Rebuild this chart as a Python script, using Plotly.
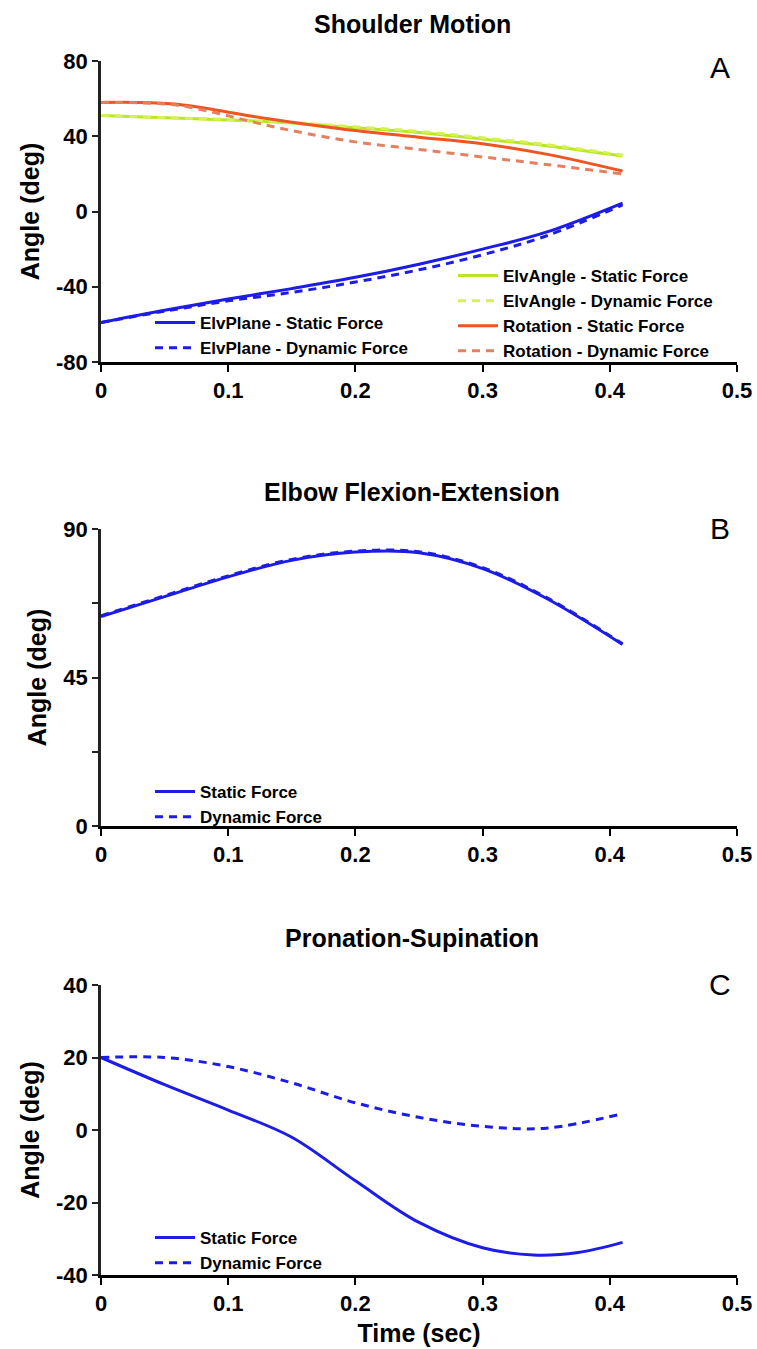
import plotly.graph_objects as go

W, H = 757, 1349

# ---------------- data ----------------
t_a = [0, 0.05, 0.1, 0.15, 0.2, 0.25, 0.3, 0.35, 0.41]
elvplane_static = [-59, -52.5, -46.5, -41, -35, -28, -20, -11, 4.5]
elvplane_dynamic = [-59, -53, -47.5, -43, -37.5, -31, -23, -13, 3.5]
elvangle_static = [51, 49.8, 48.7, 47, 44.5, 42, 38.5, 35, 29.5]
elvangle_dynamic = [51, 49.9, 48.9, 47.3, 45, 42.6, 39.2, 35.6, 30]
t_rot = [0, 0.03, 0.06, 0.09, 0.12, 0.15, 0.2, 0.25, 0.3, 0.35, 0.41]
rotation_static = [58, 58, 57, 54, 50.5, 47.5, 43, 39.5, 36, 30.5, 21.5]
rotation_dynamic = [58, 57.8, 56.5, 52.5, 47.5, 43, 37, 33, 29, 25, 20]

t_b = [0, 0.05, 0.1, 0.15, 0.2, 0.25, 0.3, 0.35, 0.41]
elbow_static = [63.5, 69.5, 75.5, 80.5, 83, 82.8, 78, 69, 55]
elbow_dynamic = [63.7, 69.8, 75.8, 80.8, 83.3, 83.1, 78.3, 69.3, 55.2]

t_c_static = [0, 0.05, 0.1, 0.15, 0.2, 0.25, 0.3, 0.34, 0.375, 0.41]
prosup_static = [20, 12.5, 5.5, -2, -14, -25.5, -32.5, -34.5, -33.8, -31]
t_c_dynamic = [0, 0.05, 0.1, 0.15, 0.2, 0.25, 0.3, 0.35, 0.41]
prosup_dynamic = [20, 20, 17.5, 13, 7.5, 3.5, 1, 0.5, 4.5]

x_ticks = [0, 0.1, 0.2, 0.3, 0.4, 0.5]
x_ticklabels = ["0", "0.1", "0.2", "0.3", "0.4", "0.5"]
a_ticks = [-80, -40, 0, 40, 80]
b_ticks = [0, 22.5, 45, 67.5, 90]
b_ticklabels = ["0", "", "45", "", "90"]
c_ticks = [-40, -20, 0, 20, 40]

titles = ["Shoulder Motion", "Elbow Flexion-Extension", "Pronation-Supination"]
letters = ["A", "B", "C"]

# ---------------- style ----------------
BLUE = "rgb(28,28,230)"
GREEN = "rgb(185,232,35)"
GREEN_D = "rgb(215,240,90)"
ORANGE = "rgb(238,85,35)"
ORANGE_D = "rgb(226,128,95)"
FONT = "Liberation Sans, Arial, sans-serif"
DASH = "8px,6px"

L, R = 101, 20
PW = W - L - R
panels_px = [(61, 362), (529, 826), (985, 1275)]


def ydom(top, bot):
    return [1 - bot / H, 1 - top / H]


def px_x(px):
    return (px - L) / PW


def px_y(py):
    return 1 - py / H


fig = go.Figure()


def add(x, y, name, color, dash, axis, legend, width=3):
    fig.add_trace(go.Scatter(
        x=x, y=y, name=name, mode="lines",
        line=dict(color=color, width=width, dash=dash, shape="spline", smoothing=1.0),
        xaxis="x" + axis, yaxis="y" + axis, legend=legend,
    ))


add(t_a, elvplane_static, "ElvPlane - Static Force", BLUE, "solid", "", "legend")
add(t_a, elvplane_dynamic, "ElvPlane - Dynamic Force", BLUE, DASH, "", "legend")
add(t_a, elvangle_static, "ElvAngle - Static Force", GREEN, "solid", "", "legend2")
add(t_a, elvangle_dynamic, "ElvAngle - Dynamic Force", GREEN_D, DASH, "", "legend2")
add(t_rot, rotation_static, "Rotation - Static Force", ORANGE, "solid", "", "legend2")
add(t_rot, rotation_dynamic, "Rotation - Dynamic Force", ORANGE_D, DASH, "", "legend2")

add(t_b, elbow_static, "Static Force", BLUE, "solid", "2", "legend3")
add(t_b, elbow_dynamic, "Dynamic Force", BLUE, DASH, "2", "legend3")

add(t_c_static, prosup_static, "Static Force", BLUE, "solid", "3", "legend4")
add(t_c_dynamic, prosup_dynamic, "Dynamic Force", BLUE, DASH, "3", "legend4")

tickfont = dict(family=FONT, size=22, color="black", weight="bold")
titlefont = dict(family=FONT, size=25, color="black", weight="bold")


def xaxis(anchor, title=None):
    d = dict(
        domain=[0, 1], anchor=anchor, range=[0, 0.5],
        tickvals=x_ticks, ticktext=x_ticklabels,
        showline=True, linecolor="black", linewidth=3,
        ticks="outside", ticklen=7, tickwidth=2, tickcolor="black",
        showgrid=False, zeroline=False, tickfont=tickfont, tickangle=0,
        fixedrange=True, automargin=False,
    )
    if title:
        d["title"] = dict(text=title, font=titlefont, standoff=10)
    return d


def yaxis(anchor, dom, rng, tv, tt=None):
    return dict(
        domain=dom, anchor=anchor, range=rng,
        tickvals=tv, ticktext=tt if tt else [str(v) for v in tv],
        showline=True, linecolor="#222", linewidth=2.5,
        ticks="outside", ticklen=6, tickwidth=2, tickcolor="#222",
        showgrid=False, zeroline=False, tickfont=tickfont,
        title=dict(text="Angle (deg)", font=titlefont, standoff=10),
        fixedrange=True, automargin=False,
    )


fig.update_layout(
    width=W, height=H,
    margin=dict(l=L, r=R, t=0, b=0, autoexpand=False),
    paper_bgcolor="white", plot_bgcolor="white",
    font=dict(family=FONT, color="black"),
    xaxis=xaxis("y"),
    xaxis2=xaxis("y2"),
    xaxis3=xaxis("y3", "Time (sec)"),
    yaxis=yaxis("x", ydom(*panels_px[0]), [-80, 80], a_ticks),
    yaxis2=yaxis("x2", ydom(*panels_px[1]), [0, 90], b_ticks, b_ticklabels),
    yaxis3=yaxis("x3", ydom(*panels_px[2]), [-40, 40], c_ticks),
)

legfont = dict(family=FONT, size=17, color="black", weight="bold")


def leg(xpx, ypx):
    return dict(
        x=px_x(xpx), y=px_y(ypx), xref="paper", yref="paper",
        xanchor="left", yanchor="top", bgcolor="rgba(0,0,0,0)",
        font=legfont, tracegroupgap=0, itemwidth=40,
    )


fig.update_layout(
    legend=leg(150, 305),
    legend2=leg(453, 258),
    legend3=leg(150, 774),
    legend4=leg(150, 1220),
    showlegend=True,
)

title_y = [24, 492, 938]
letter_y = [67, 528, 985]
for i in range(3):
    fig.add_annotation(
        text=titles[i], x=px_x(412), y=px_y(title_y[i]),
        xref="paper", yref="paper", xanchor="center", yanchor="middle",
        showarrow=False, font=dict(family=FONT, size=25, color="black", weight="bold"),
    )
    fig.add_annotation(
        text=letters[i], x=px_x(720), y=px_y(letter_y[i]),
        xref="paper", yref="paper", xanchor="center", yanchor="middle",
        showarrow=False, font=dict(family=FONT, size=30, color="black"),
    )

fig.write_html("out.html")
